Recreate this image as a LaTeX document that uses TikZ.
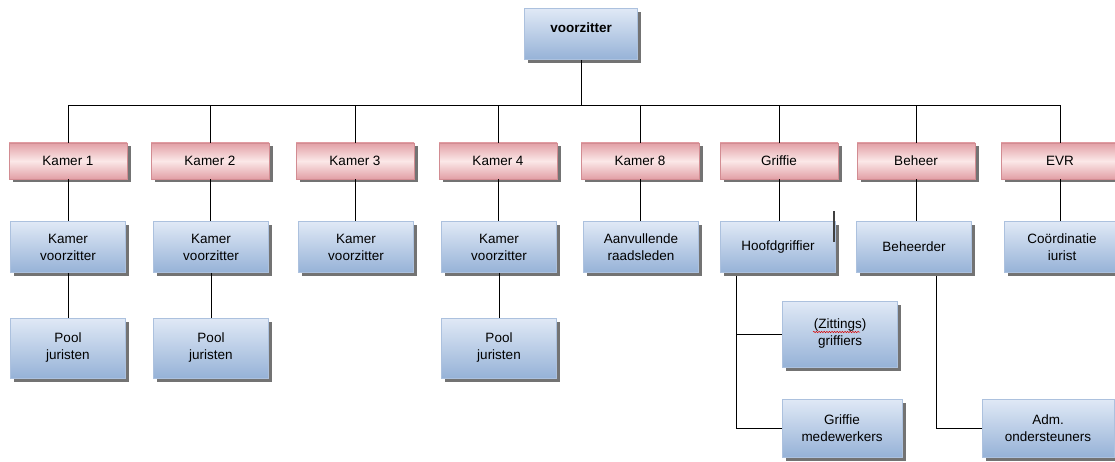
\documentclass[tikz,border=0pt]{standalone}
\usepackage{fontspec}
\setmainfont{Liberation Sans}
\usetikzlibrary{shadows,decorations.pathmorphing}
\definecolor{pinktop}{RGB}{226,160,166}
\definecolor{pinkmid}{RGB}{251,232,232}
\definecolor{pinkline}{RGB}{210,140,146}
\definecolor{bluetop}{RGB}{224,233,246}
\definecolor{bluebot}{RGB}{150,178,215}
\definecolor{blueline}{RGB}{172,193,222}

\begin{document}
\begin{tikzpicture}[x=1pt,y=-1pt,line width=0.8pt,
  box/.style={draw, line width=0.6pt, align=center, inner sep=2pt,
    font=\fontsize{13.5}{17}\selectfont,
    drop shadow={shadow xshift=3.5pt,shadow yshift=-3.5pt,fill=black!55,opacity=1}},
  kamer/.style={box, draw=pinkline, top color=pinktop, bottom color=pinktop,
    middle color=pinkmid, minimum width=118pt, minimum height=36pt},
  staf/.style={box, draw=blueline, top color=bluetop, bottom color=bluebot,
    minimum width=115pt, minimum height=51pt}]
  \path[use as bounding box, clip] (0,0) rectangle (1115,462);

  \node [staf, minimum width=113pt, text depth=12pt,
    font=\fontsize{13.5}{17}\selectfont\bfseries] (voorz) at (581,34) {voorzitter};

  \node [kamer] (k1) at (68,161) {Kamer 1};
  \node [kamer] (k2) at (210,161) {Kamer 2};
  \node [kamer] (k3) at (355,161) {Kamer 3};
  \node [kamer] (k4) at (498,161) {Kamer 4};
  \node [kamer] (k8) at (640,161) {Kamer 8};
  \node [kamer] (griffie) at (779,161) {Griffie};
  \node [kamer] (beheer) at (916,161) {Beheer};
  \node [kamer] (evr) at (1060,161) {EVR};

  \node [staf] (kv1) at (68,247) {Kamer\\voorzitter};
  \node [staf] (kv2) at (211,247) {Kamer\\voorzitter};
  \node [staf] (kv3) at (356,247) {Kamer\\voorzitter};
  \node [staf] (kv4) at (499,247) {Kamer\\voorzitter};
  \node [staf] (aanv) at (641,247) {Aanvullende\\raadsleden};
  \node [staf] (hoofd) at (778,247) {Hoofdgriffier};
  \node [staf] (beheerder) at (914,247) {Beheerder};
  \node [staf] (coord) at (1062,247) {Coördinatie\\iurist};

  \node [staf, minimum height=60pt] (pool1) at (68,348) {Pool\\juristen};
  \node [staf, minimum height=60pt] (pool2) at (211,348) {Pool\\juristen};
  \node [staf, minimum height=60pt] (pool4) at (499,348) {Pool\\juristen};
  \node [staf, minimum height=66pt] (zitt) at (840,334) {(Zittings)\\griffiers};
  \node [staf, minimum height=58pt, minimum width=120pt] (medew) at (842,428) {Griffie\\medewerkers};
  \node [staf, minimum height=58pt, minimum width=132pt] (adm) at (1048,428) {Adm.\\ondersteuners};

  \coordinate (bus) at (voorz.south |- 0,105);
  \draw (voorz.south) -- (bus);
  \foreach \n in {k1,k2,k3,k4,k8,griffie,beheer,evr}
    \draw (bus) -| (\n.north);
  \foreach \a/\b in {k1/kv1,k2/kv2,k3/kv3,k4/kv4,k8/aanv,griffie/hoofd,beheer/beheerder,evr/coord,kv1/pool1,kv2/pool2,kv4/pool4}
    \draw (\a.south) -- (\a.south |- \b.north);
  \draw ([xshift=16pt,yshift=-3pt]hoofd.south west) |- (zitt.west);
  \draw ([xshift=16pt,yshift=-3pt]hoofd.south west) |- (medew.west);
  \draw ([xshift=22pt,yshift=-3pt]beheerder.south) |- (adm.west);

  \draw [red!85!black, line width=0.5pt, decorate,
    decoration={snake, amplitude=0.7pt, segment length=2.6pt}]
    ([shift={(-27pt,2pt)}]zitt.center) -- ++(47,0);
  \draw [line width=2.5pt, black!75] ([shift={(-2pt,10pt)}]hoofd.north east) -- ++(0,31);
\end{tikzpicture}
\end{document}
